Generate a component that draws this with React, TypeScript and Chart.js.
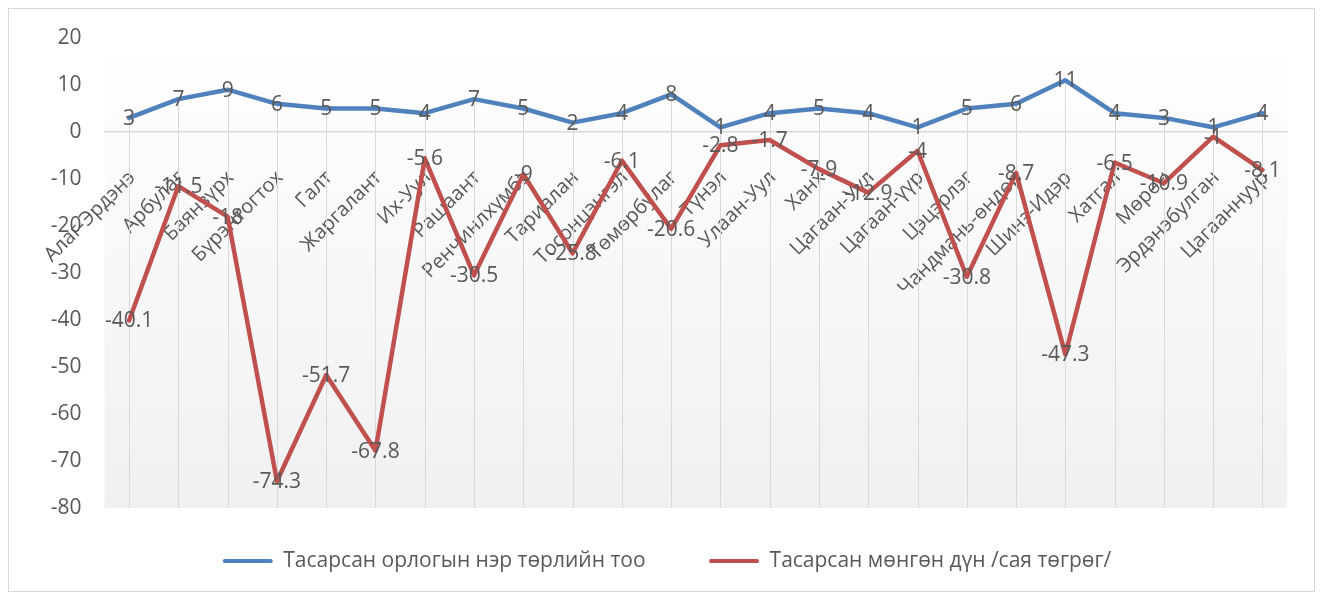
import React, { useEffect, useRef } from 'react';
import { Chart, registerables } from 'chart.js';

Chart.register(...registerables);

const categories = [
  'Алаг-Эрдэнэ', 'Арбулаг', 'Баянзүрх', 'Бүрэнтогтох', 'Галт', 'Жаргалант',
  'Их-Уул', 'Рашаант', 'Ренчинлхүмбэ', 'Тариалан', 'Тосонцэнгэл', 'Төмөрбулаг',
  'Түнэл', 'Улаан-Уул', 'Ханх', 'Цагаан-Уул', 'Цагаан-үүр', 'Цэцэрлэг',
  'Чандмань-өндөр', 'Шинэ-Идэр', 'Хатгал', 'Мөрөн', 'Эрдэнэбулган', 'Цагааннуур',
];

const countSeries = [3, 7, 9, 6, 5, 5, 4, 7, 5, 2, 4, 8, 1, 4, 5, 4, 1, 5, 6, 11, 4, 3, 1, 4];
const amountSeries = [
  -40.1, -11.5, -18, -74.3, -51.7, -67.8, -5.6, -30.5, -9, -25.8, -6.1, -20.6,
  -2.8, -1.7, -7.9, -12.9, -4, -30.8, -8.7, -47.3, -6.5, -10.9, -1, -8.1,
];

const seriesLabels = ['Тасарсан орлогын нэр төрлийн тоо', 'Тасарсан мөнгөн дүн /сая төгрөг/'];
const seriesColors = ['#4F81BD', '#C0504D'];

const yMin = -80;
const yMax = 20;
const yStep = 10;

const FONT = "'Open Sans', sans-serif";
const TEXT = '#595959';

const bgPlugin = {
  id: 'plotBg',
  beforeDraw(chart: any) {
    const { ctx, chartArea } = chart;
    if (!chartArea) return;
    const g = ctx.createLinearGradient(0, chartArea.top, 0, chartArea.bottom);
    g.addColorStop(0, '#ffffff');
    g.addColorStop(1, '#f0f0f0');
    ctx.save();
    ctx.fillStyle = g;
    ctx.fillRect(chartArea.left, chartArea.top, chartArea.right - chartArea.left, chartArea.bottom - chartArea.top);
    ctx.restore();
  },
};

const dropLinePlugin = {
  id: 'dropLines',
  beforeDatasetsDraw(chart: any) {
    const { ctx, chartArea } = chart;
    const metas = chart.data.datasets.map((_: any, i: number) => chart.getDatasetMeta(i));
    const n = chart.data.labels.length;
    ctx.save();
    ctx.strokeStyle = '#d9d9d9';
    ctx.lineWidth = 1;
    for (let i = 0; i < n; i++) {
      let top = Infinity;
      let x = 0;
      metas.forEach((m: any) => {
        const p = m.data[i];
        if (p) { top = Math.min(top, p.y); x = p.x; }
      });
      ctx.beginPath();
      ctx.moveTo(Math.round(x) + 0.5, top);
      ctx.lineTo(Math.round(x) + 0.5, chartArea.bottom);
      ctx.stroke();
    }
    ctx.restore();
  },
};

const valueLabelPlugin = {
  id: 'valueLabels',
  afterDatasetsDraw(chart: any) {
    const { ctx } = chart;
    ctx.save();
    ctx.font = `21px ${FONT}`;
    ctx.fillStyle = TEXT;
    ctx.textAlign = 'center';
    ctx.textBaseline = 'middle';
    chart.data.datasets.forEach((ds: any, di: number) => {
      const meta = chart.getDatasetMeta(di);
      meta.data.forEach((p: any, i: number) => {
        ctx.fillText(String(ds.data[i]), p.x, p.y + 1);
      });
    });
    ctx.restore();
  },
};

export default function App() {
  const canvasRef = useRef<HTMLCanvasElement | null>(null);

  useEffect(() => {
    if (!canvasRef.current) return;
    const chart = new Chart(canvasRef.current, {
      type: 'line',
      data: {
        labels: categories,
        datasets: [
          {
            label: seriesLabels[0],
            data: countSeries,
            borderColor: seriesColors[0],
            backgroundColor: seriesColors[0],
            borderWidth: 4.5,
            pointRadius: 0,
            borderJoinStyle: 'round',
            borderCapStyle: 'round',
            tension: 0,
          },
          {
            label: seriesLabels[1],
            data: amountSeries,
            borderColor: seriesColors[1],
            backgroundColor: seriesColors[1],
            borderWidth: 4.5,
            pointRadius: 0,
            borderJoinStyle: 'round',
            borderCapStyle: 'round',
            tension: 0,
          },
        ],
      },
      options: {
        animation: false,
        responsive: true,
        maintainAspectRatio: false,
        layout: { padding: { left: 37, right: 26, top: 29, bottom: 9.5 } },
        scales: {
          x: {
            type: 'category',
            position: { y: 0 } as any,
            offset: true,
            grid: { display: false, drawTicks: false },
            border: { display: true, color: '#d9d9d9', width: 1.5 },
            ticks: {
              autoSkip: false,
              minRotation: 45,
              maxRotation: 45,
              padding: 34,
              labelOffset: 3,
              color: TEXT,
              font: { family: FONT, size: 20 },
            },
          },
          y: {
            min: yMin,
            max: yMax,
            grid: { display: false, drawTicks: false },
            border: { display: false },
            afterFit: (s: any) => {
              s.width = 58;
              s.paddingTop = 0;
              s.paddingBottom = 0;
            },
            ticks: {
              stepSize: yStep,
              padding: 23,
              color: TEXT,
              font: { family: FONT, size: 21 },
            },
          },
        },
        plugins: {
          tooltip: { enabled: false },
          legend: {
            position: 'bottom',
            labels: {
              boxWidth: 50,
              boxHeight: 4,
              padding: 42.5,
              color: TEXT,
              font: { family: FONT, size: 21 },
              generateLabels: (c: any) =>
                c.data.datasets.map((ds: any, i: number) => ({
                  text: ds.label + (i < c.data.datasets.length - 1 ? '\u2003' : ''),
                  fillStyle: ds.borderColor,
                  strokeStyle: ds.borderColor,
                  lineWidth: 0,
                  fontColor: TEXT,
                  hidden: false,
                  datasetIndex: i,
                  borderRadius: 2,
                })),
            },
          },
        },
      },
      plugins: [bgPlugin, dropLinePlugin, valueLabelPlugin],
    });
    return () => chart.destroy();
  }, []);

  return (
    <div
      style={{
        width: 1307,
        height: 584,
        border: '1px solid #d9d9d9',
        boxSizing: 'border-box',
        background: '#ffffff',
      }}
    >
      <div style={{ position: 'relative', width: 1305, height: 582 }}>
        <canvas ref={canvasRef} />
      </div>
    </div>
  );
}
